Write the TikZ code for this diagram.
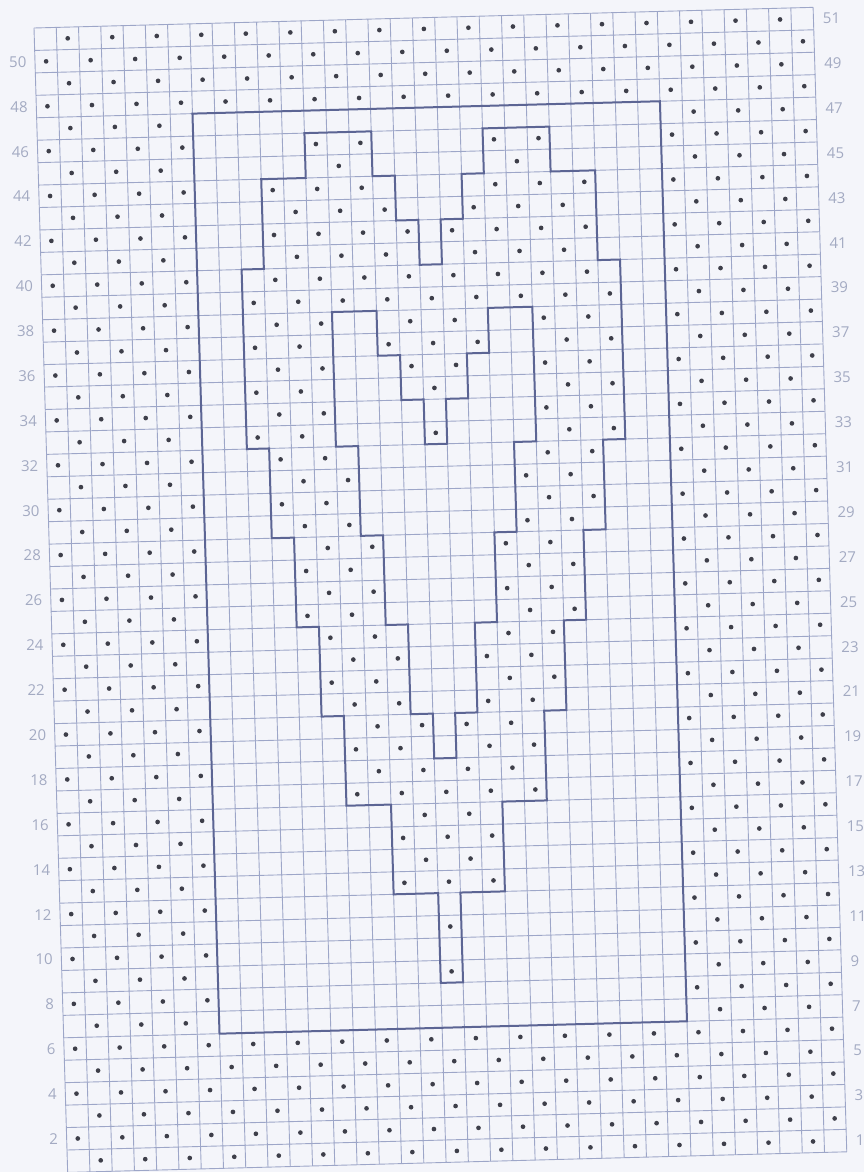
\documentclass[tikz,border=0pt]{standalone}
\usepackage{fontspec}
\setmainfont{Open Sans}
\definecolor{bgc}{HTML}{F4F5FA}
\definecolor{gridc}{HTML}{9DA6C8}
\definecolor{outc}{HTML}{5C6594}
\definecolor{dotc}{HTML}{3E3F4A}
\definecolor{labc}{HTML}{A3AAC2}
\tikzset{
  gridline/.style={draw=gridc,line width=0.9pt},
  outline/.style={draw=outc,line width=2pt,line join=miter},
  rowlabel/.style={text=labc,font=\fontsize{15}{18}\selectfont,inner sep=0pt},
}
\newcommand\chartdot[2]{\fill[dotc] ({#1+0.5},{#2+0.5}) circle[radius=0.105];}
\begin{document}
\begin{tikzpicture}[x=1pt,y=1pt]
\useasboundingbox[fill=bgc] (0,0) rectangle (864,-1172);
\begin{scope}[cm={22.26,0.59,0.66,-22.44,(34pt,-28pt)}]
  % grid
  \foreach \i in {0,...,35} {\draw[gridline] (\i,0) -- (\i,51);}
  \foreach \j in {0,...,51} {\draw[gridline] (0,\j) -- (35,\j);}
  % border dots (seed stitch outside the frame)
  \foreach \v in {0,...,50} {
    \foreach \u in {0,...,34} {
      \ifodd\numexpr\u+\v\relax
        \pgfmathtruncatemacro\outside{(\u<7)||(\u>27)||(\v<4)||(\v>44)}
        \ifnum\outside=1 \chartdot{\u}{\v}\fi
      \fi
    }
  }
  % heart band dots
  \foreach \va/\vb/\ints in {
      5/6/{12/14,20/22},
      7/8/{10/15,19/24},
      9/10/{10/16,18/24},
      11/12/{9/25},
      13/14/{9/12,15/19,22/25},
      15/16/{9/12,16/18,22/25},
      17/18/{9/12,17/17,22/25},
      19/22/{10/13,21/24},
      23/26/{11/14,20/23},
      27/30/{12/15,19/22},
      31/32/{13/16,18/21},
      33/34/{13/21},
      35/38/{15/19},
      39/42/{17/17}} {
    \foreach \v in {\va,...,\vb} {
      \foreach \a/\b in \ints {
        \foreach \u in {\a,...,\b} {
          \ifodd\numexpr\u+\v\relax \chartdot{\u}{\v}\fi
        }
      }
    }
  }
  % frame
  \draw[outline] (7,4) -- (28,4) -- (28,45) -- (7,45) -- cycle;
  % outer heart
  \draw[outline] (17,11) -- (17,9) -- (16,9) -- (16,7) -- (15,7) -- (15,5) -- (12,5) -- (12,7)
    -- (10,7) -- (10,11) -- (9,11) -- (9,19) -- (10,19) -- (10,23) -- (11,23) -- (11,27)
    -- (12,27) -- (12,31) -- (13,31) -- (13,35) -- (15,35) -- (15,39) -- (17,39) -- (17,43)
    -- (18,43) -- (18,39) -- (20,39) -- (20,35) -- (22,35) -- (22,31) -- (23,31) -- (23,27)
    -- (24,27) -- (24,23) -- (25,23) -- (25,19) -- (26,19) -- (26,11) -- (25,11) -- (25,7)
    -- (23,7) -- (23,5) -- (20,5) -- (20,7) -- (19,7) -- (19,9) -- (18,9) -- (18,11) -- cycle;
  % inner heart
  \draw[outline] (13,13) -- (15,13) -- (15,15) -- (16,15) -- (16,17) -- (17,17) -- (17,19)
    -- (18,19) -- (18,17) -- (19,17) -- (19,15) -- (20,15) -- (20,13) -- (22,13) -- (22,19)
    -- (21,19) -- (21,23) -- (20,23) -- (20,27) -- (19,27) -- (19,31) -- (18,31) -- (18,33)
    -- (17,33) -- (17,31) -- (16,31) -- (16,27) -- (15,27) -- (15,23) -- (14,23) -- (14,19)
    -- (13,19) -- cycle;
  % row numbers
  \foreach \r in {2,4,...,50} {
    \node[rowlabel,anchor=east] (L\r) at ({-0.38},{51.5-\r}) {\r};
  }
  \foreach \r in {1,3,...,51} {
    \node[rowlabel,anchor=west] (R\r) at ({35.42},{51.5-\r}) {\r};
  }
\end{scope}
\end{tikzpicture}
\end{document}
